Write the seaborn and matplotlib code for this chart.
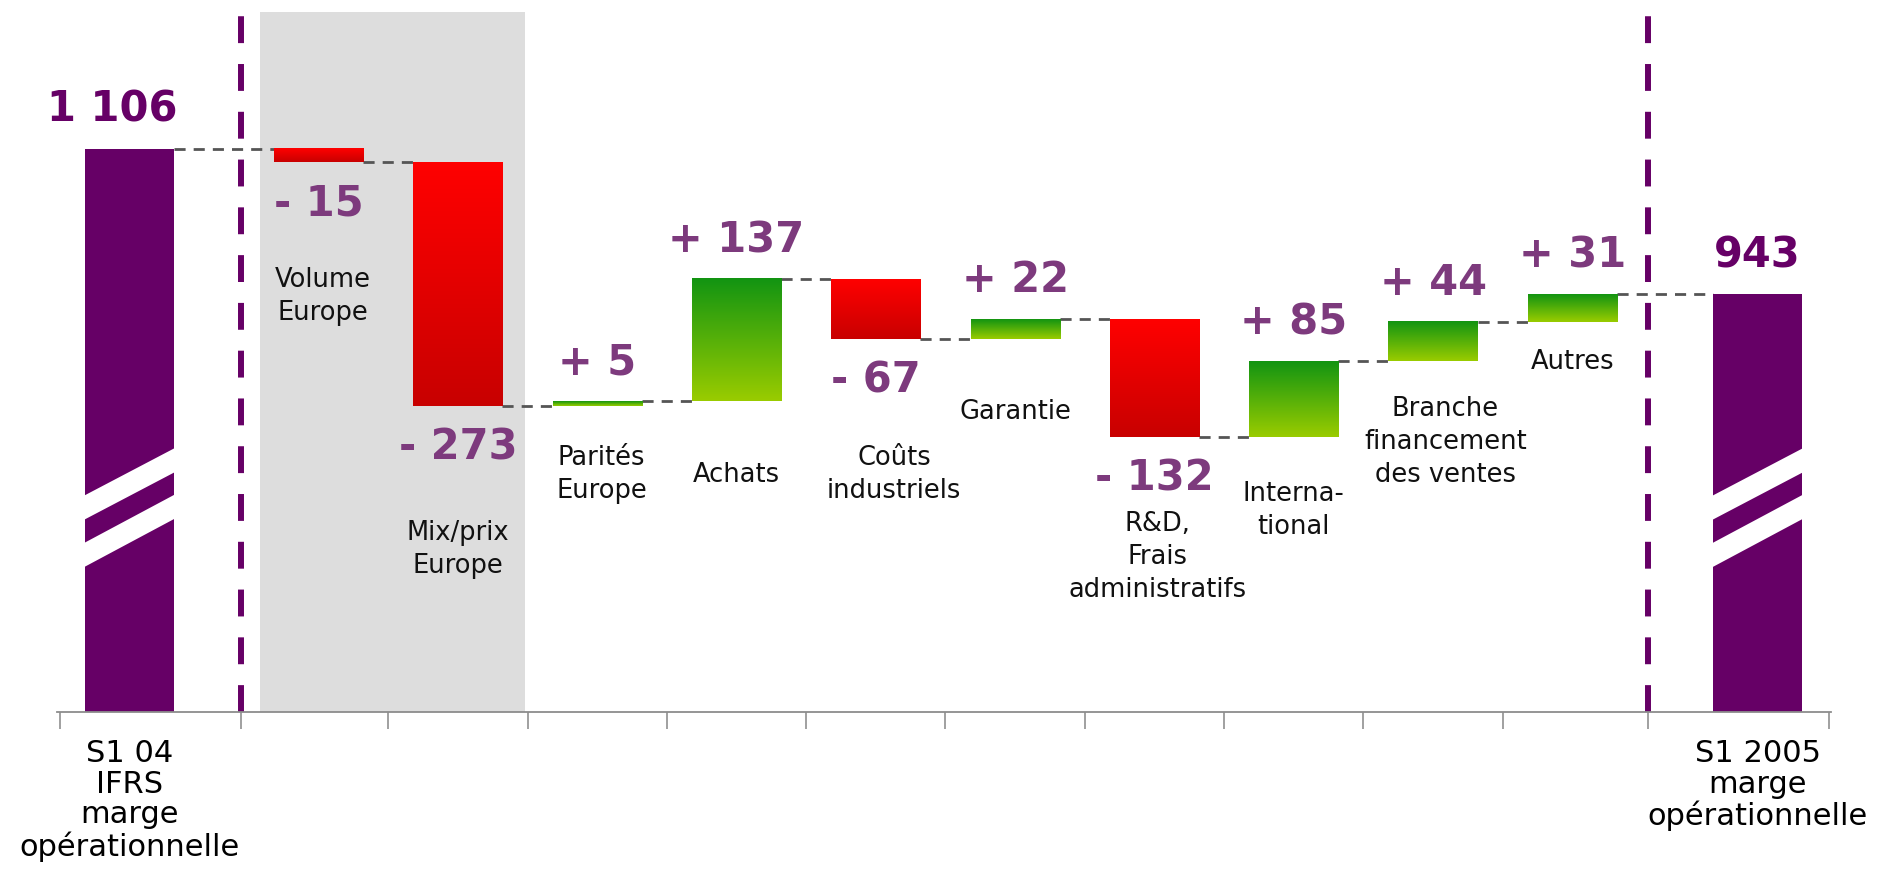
import numpy as np
import pandas as pd
import matplotlib
matplotlib.use("Agg")
import matplotlib.pyplot as plt
from matplotlib.colors import LinearSegmentedColormap
from matplotlib.patches import Polygon
import seaborn as sns

# ---- data ----
categories = ["S1 04\nIFRS\nmarge\nopérationnelle", "Volume\nEurope", "Mix/prix\nEurope",
              "Parités\nEurope", "Achats", "Coûts\nindustriels", "Garantie",
              "R&D,\nFrais\nadministratifs", "Interna-\ntional",
              "Branche\nfinancement\ndes ventes", "Autres",
              "S1 2005\nmarge\nopérationnelle"]
start_value = 1106
deltas = [-15, -273, 5, 137, -67, 22, -132, 85, 44, 31]
end_value = 943

# ---- layout ----
x_pos = [0.0] + [1.36 + i for i in range(10)] + [11.69]
bar_w = 0.64
label_y = [940, 657, 741, 741, 741, 811, 649, 701, 778, 867]
label_dx = [0.03, 0, 0.03, 0, 0.13, 0, 0.02, 0, 0.09, 0]
sep_left, sep_right = 0.8, 10.9
shade = (0.94, 2.845)
y_lo, y_hi = 475, 1259

PURPLE = "#660066"
VALUE_PURPLE = "#7D3A7D"
RED = LinearSegmentedColormap.from_list("red", ["#FF0000", "#C80000"])
GREEN = LinearSegmentedColormap.from_list("green", ["#129412", "#9ACC00"])

plt.rcParams['font.family'] = ['DejaVu Sans']

levels = list(np.cumsum([start_value] + deltas))
bottoms = [0] + [min(levels[i], levels[i + 1]) for i in range(len(deltas))] + [0]
heights = [start_value] + [abs(d) for d in deltas] + [end_value]
df = pd.DataFrame({"pos": x_pos, "height": heights})

fig = plt.figure(figsize=(18.93, 8.69), dpi=100)
ax = fig.add_axes([0.02997, 0.1803, 0.9375, 0.806])

sns.barplot(data=df, x="pos", y="height", native_scale=True, width=bar_w,
            bottom=bottoms, color=PURPLE, saturation=1, errorbar=None,
            ax=ax, zorder=2)
bars = list(ax.patches)

grad = np.linspace(0, 1, 256).reshape(-1, 1)
for i, bar in enumerate(bars):
    x0, y0 = bar.get_x(), bar.get_y()
    x1, y1 = x0 + bar.get_width(), y0 + bar.get_height()
    if i == 0 or i == len(bars) - 1:
        bar.set_facecolor(PURPLE)
        bar.set_edgecolor("none")
        # axis-break marks
        for top_l, top_r in [(717, 771), (664, 719)]:
            ax.add_patch(Polygon([(x0 - 0.01, top_l), (x1 + 0.01, top_r),
                                  (x1 + 0.01, top_r - 27), (x0 - 0.01, top_l - 27)],
                                 closed=True, facecolor="white", edgecolor="none",
                                 zorder=3))
    else:
        d = deltas[i - 1]
        cmap = GREEN if d > 0 else RED
        bar.set_facecolor(cmap(1.0))
        bar.set_edgecolor("none")
        ax.imshow(grad, cmap=cmap, extent=(x0, x1, y0, y1), aspect="auto",
                  origin="upper", interpolation="bicubic", zorder=2.1)

# shaded area and separators
ax.axvspan(shade[0], shade[1], color="#DDDDDD", zorder=0, lw=0)
for xs in (sep_left, sep_right):
    ax.axvline(xs, color=PURPLE, lw=4.3, ls=(0, (4.5, 3.5)), zorder=1)

# connectors
for i in range(len(levels)):
    ax.plot([x_pos[i] + bar_w / 2, x_pos[i + 1] - bar_w / 2], [levels[i], levels[i]],
            color="#555555", lw=2, ls=(0, (4, 2.9)), zorder=1.5)

# value labels
def fmt_total(v):
    return f"{v:,}".replace(",", " ")

ax.annotate(fmt_total(start_value), (x_pos[0], start_value), xytext=(-12, 28),
            textcoords="offset points", ha="center", va="center",
            fontsize=30, fontweight="bold", color=PURPLE)
ax.annotate(fmt_total(end_value), (x_pos[-1], end_value), xytext=(0, 28),
            textcoords="offset points", ha="center", va="center",
            fontsize=30, fontweight="bold", color=PURPLE)
for i, d in enumerate(deltas):
    top = max(levels[i], levels[i + 1])
    bot = min(levels[i], levels[i + 1])
    txt = f"{'+' if d > 0 else '-'} {abs(d)}"
    yv, off = (top, 28) if d > 0 else (bot, -30)
    ax.annotate(txt, (x_pos[i + 1], yv), xytext=(0, off), textcoords="offset points",
                ha="center", va="center", fontsize=30, fontweight="bold",
                color=VALUE_PURPLE)
    ax.text(x_pos[i + 1] + label_dx[i], label_y[i], categories[i + 1], ha="center",
            va="center", fontsize=18.5, linespacing=1.35, color="#111111")

# axes styling
ax.set_xlim(-0.52, 12.22)
ax.set_ylim(y_lo, y_hi)
for s in ("left", "right", "top"):
    ax.spines[s].set_visible(False)
ax.spines["bottom"].set_color("#8C8C8C")
ax.spines["bottom"].set_linewidth(1.3)
ax.set_yticks([])
ax.set_xlabel("")
ax.set_ylabel("")

mids = [(x_pos[i] + x_pos[i + 1]) / 2 for i in range(1, len(x_pos) - 2)]
boundaries = [-0.5, sep_left] + mids + [sep_right, 12.2]
ax.set_xticks(boundaries, minor=True)
ax.set_xticks([x_pos[0], x_pos[-1]])
ax.set_xticklabels([categories[0], categories[-1]], fontsize=22)
for t in ax.get_xticklabels():
    t.set_linespacing(1.08)
ax.tick_params(axis="x", which="major", length=0, pad=19)
ax.tick_params(axis="x", which="minor", length=12, width=1.3, color="#999999")

fig.savefig("out.png", dpi=100)
